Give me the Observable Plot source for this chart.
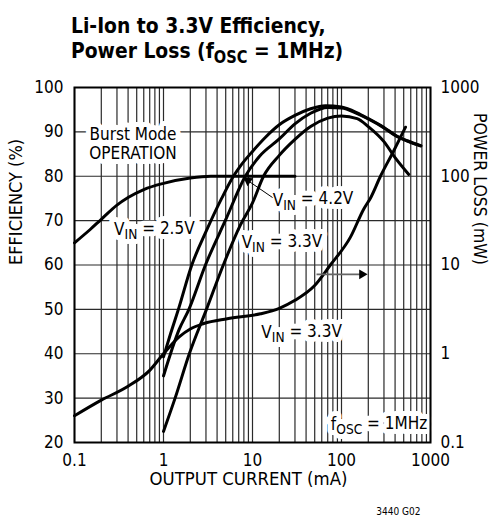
<!DOCTYPE html>
<html>
<head>
<meta charset="utf-8">
<script src="https://cdn.jsdelivr.net/npm/d3@7"></script>
<script src="https://cdn.jsdelivr.net/npm/@observablehq/plot@0.6"></script>
<style>
  body { margin: 0; background: #fff; }
  #wrap { width: 492px; height: 518px; position: relative; overflow: hidden; background: #fff; }
  #title { position: absolute; left: 71px; top: 13px; font-family: "Liberation Sans Narrow", "DejaVu Sans Condensed", sans-serif; font-stretch: condensed; font-weight: bold; font-size: 21.6px; color: #000; white-space: nowrap; transform: scaleX(0.965); transform-origin: 0 0; }
  #title div { height: 25px; line-height: 25px; }
  #title sub { font-size: 0.78em; vertical-align: -0.28em; line-height: 0; }
  #chart { position: absolute; left: 0; top: 70px; }
</style>
</head>
<body>
<div id="wrap">
  <div id="title"><div>Li-Ion to 3.3V Efficiency,</div><div>Power Loss (f<sub>OSC</sub> = 1MHz)</div></div>
  <div id="chart"></div>
</div>
<script>
// ---------- data ----------
// Burst Mode operation efficiency (%)
const burstCurrent = [0.1, 0.15, 0.2, 0.3, 0.4, 0.6, 1, 2, 3.4, 10, 30];
const burstEff     = [65, 68, 70.3, 73.5, 75.2, 77, 78.4, 79.6, 80, 80, 80];

// VIN = 2.5V efficiency (%)
const vin25Current = [1, 1.2, 1.47, 2.08, 3, 4.5, 6.1, 7.3, 10, 14, 20, 30, 45, 66, 100, 150, 200, 300, 400, 550, 780];
const vin25Eff     = [39.3, 44.5, 50, 60, 67.5, 75, 80, 82.3, 85.6, 88.8, 91.6, 93.7, 95.2, 95.9, 95.6, 94.3, 93.0, 91.0, 89.3, 88.0, 86.9];

// VIN = 4.2V efficiency (%)
const vin42Current = [1, 1.5, 1.93, 2.96, 5, 8.3, 12, 20, 30, 45, 70, 100, 150, 200, 300, 400, 550, 780];
const vin42Eff     = [35, 45.5, 50, 60, 70.2, 80, 84.5, 88.4, 91.8, 94.2, 95.5, 95.4, 94.1, 92.9, 90.9, 89.2, 87.9, 86.8];

// VIN = 3.3V efficiency (%)
const vin33Current = [1, 1.35, 1.95, 3.04, 4.7, 7.3, 10, 13.3, 20, 30, 45, 70, 100, 150, 200, 300, 400, 570];
const vin33Eff     = [22.5, 30, 40, 50, 60, 69, 74, 80, 84.7, 88.3, 91.2, 93.1, 93.6, 93.0, 91.2, 87.8, 84.2, 80.4];

// VIN = 3.3V power loss (mW), right axis
const lossCurrent = [0.1, 0.2, 0.4, 0.7, 1, 1.5, 2, 2.84, 5.2, 12.3, 20, 30, 49, 75, 126, 178, 212, 274, 387, 524];
const lossMW      = [0.2, 0.3, 0.43, 0.65, 1.0, 1.55, 1.9, 2.19, 2.48, 2.82, 3.25, 4.0, 5.75, 10, 20.6, 42.8, 57, 100, 194, 357];

// ticks
const xMajor = [0.1, 1, 10, 100, 1000];
const xMajorLabels = ["0.1", "1", "10", "100", "1000"];
const minorSteps = [1, 2, 3, 4, 5, 6, 7, 8, 9];
const effTicks = [20, 30, 40, 50, 60, 70, 80, 90, 100];
const powerTicks = [0.1, 1, 10, 100, 1000];
const powerTickLabels = ["0.1", "1", "10", "100", "1000"];

// annotations (data coordinates: current mA, efficiency %)
const labels = [
  {text: "Burst Mode\nOPERATION", I: 0.454, E: 87.4},
  {text: "V_IN = 2.5V", I: 0.79, E: 68.2},
  {text: "V_IN = 4.2V", I: 47.9, E: 74.8},
  {text: "V_IN = 3.3V", I: 21.4, E: 65.3},
  {text: "V_IN = 3.3V", I: 35.6, E: 45.0},
  {text: "f_OSC = 1MHz", I: 264, E: 24.3}
];
const pointers = [
  {I1: 16.8, E1: 75.2, I2: 8.9, E2: 79.0, color: "black", width: 1, angle: -55},
  {I1: 52.4, E1: 57.9, I2: 170, E2: 57.9, color: "#666", width: 1.8, angle: 90}
];

// ---------- build tables ----------
const powerToE = p => 20 * Math.log10(p) + 40; // 0.1mW -> 20%, 1000mW -> 100%
const xGrid = xMajor.slice(0, -1).flatMap(d => minorSteps.map(m => d * m)).concat([1000]);
const series = [
  ["burst", burstCurrent, burstEff],
  ["2.5V", vin25Current, vin25Eff],
  ["4.2V", vin42Current, vin42Eff],
  ["3.3V", vin33Current, vin33Eff]
];
const effRows = series.flatMap(([s, xs, ys]) => xs.map((x, i) => ({series: s, I: x, E: ys[i]})));
const lossRows = lossCurrent.map((x, i) => ({I: x, E: powerToE(lossMW[i])}));
const powerTickE = powerTicks.map(powerToE);

const FONT = '"Liberation Sans Narrow", "DejaVu Sans Condensed", sans-serif';

const plot = Plot.plot({
  width: 492,
  height: 448,
  marginTop: 17,
  marginBottom: 76,
  marginLeft: 74,
  marginRight: 62,
  x: {type: "log", domain: [0.1, 1000]},
  y: {domain: [20, 100]},
  style: {fontFamily: FONT, fontSize: "17px", color: "black", background: "white", overflow: "visible", fontStretch: "condensed"},
  marks: [
    Plot.gridX(xGrid, {stroke: "#2a2a2a", strokeOpacity: 1, strokeWidth: 1.2}),
    Plot.gridY(effTicks, {stroke: "#2a2a2a", strokeOpacity: 1, strokeWidth: 1.2}),
    // white boxes behind labels
    Plot.text(labels, {x: "I", y: "E", text: "text", fill: "white", stroke: "white", strokeWidth: 10, lineHeight: 1.15}),
    Plot.frame({stroke: "black", strokeWidth: 2}),
    Plot.line(effRows, {x: "I", y: "E", z: "series", stroke: "black", strokeWidth: 3, curve: "monotone-x"}),
    Plot.line(lossRows, {x: "I", y: "E", stroke: "black", strokeWidth: 3, curve: "monotone-x"}),
    Plot.text(labels, {x: "I", y: "E", text: "text", fill: "black", lineHeight: 1.15}),
    Plot.link(pointers, {x1: "I1", y1: "E1", x2: "I2", y2: "E2", stroke: "color", strokeWidth: "width"}),
    Plot.dot(pointers, {x: "I2", y: "E2", symbol: "triangle", r: 3.6, fill: "black", stroke: null, rotate: "angle"}),
    Plot.axisY(effTicks, {tickSize: 0, tickPadding: 11, label: null}),
    Plot.axisY(powerTickE, {anchor: "right", tickSize: 0, tickPadding: 10, label: null,
      tickFormat: d => powerTickLabels[powerTickE.indexOf(d)]}),
    Plot.axisX(xMajor, {tickSize: 0, tickPadding: 11, label: null,
      tickFormat: d => xMajorLabels[xMajor.indexOf(d)]}),
    Plot.text(["EFFICIENCY (%)"], {frameAnchor: "left", dx: -58, rotate: -90, text: d => d, lineAnchor: "middle", fontSize: 18}),
    Plot.text(["POWER LOSS (mW)"], {frameAnchor: "right", dx: 49, rotate: 90, text: d => d, lineAnchor: "middle", fontSize: 17.5}),
    Plot.text(["OUTPUT CURRENT (mA)"], {frameAnchor: "bottom", dx: -4, dy: 37, text: d => d, lineAnchor: "middle", fontSize: 18.4}),
    Plot.text(["3440 G02"], {frameAnchor: "bottom-right", dx: -10, dy: 69, text: d => d, textAnchor: "end", lineAnchor: "middle", fontSize: 10})
  ]
});

// subscripts: "V_IN" -> V with subscript IN, "f_OSC" -> f with subscript OSC
d3.select(plot).selectAll("text").each(function () {
  if (this.querySelector("tspan")) return;
  const t = this.textContent;
  const m = t.match(/^(.*?[A-Za-z])_([A-Z]+)(.*)$/);
  if (!m) return;
  this.textContent = "";
  const s = d3.select(this);
  s.append("tspan").text(m[1]);
  s.append("tspan").attr("dy", "0.32em").attr("font-size", "0.8em").text(m[2]);
  s.append("tspan").attr("dy", "-0.32em").text(m[3]);
});

document.getElementById("chart").appendChild(plot);
</script>
</body>
</html>
